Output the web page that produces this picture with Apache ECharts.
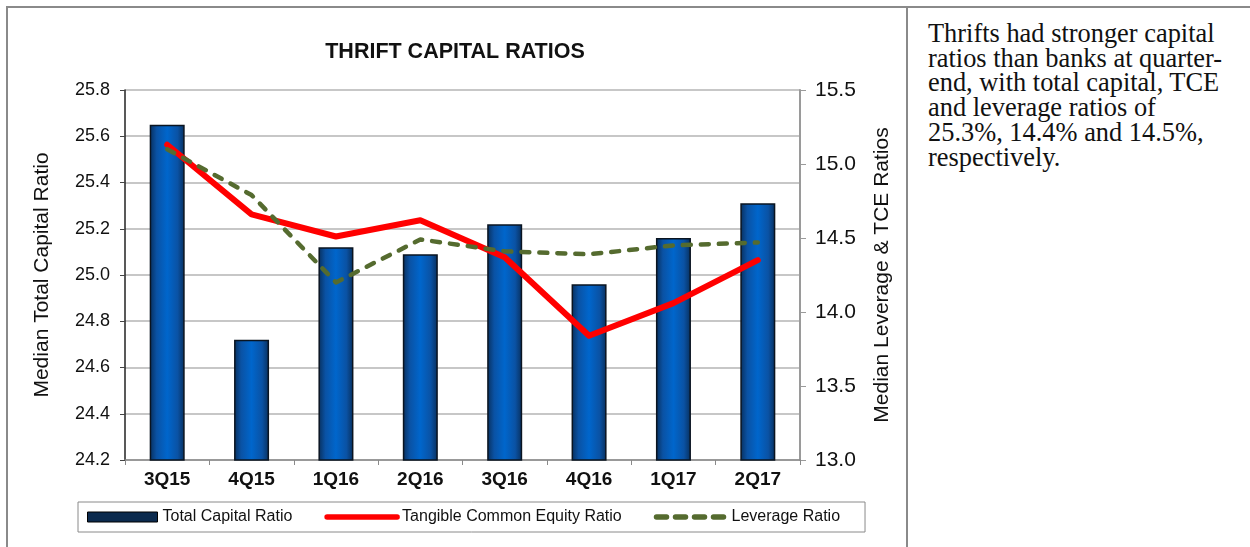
<!DOCTYPE html>
<html>
<head>
<meta charset="utf-8">
<script src="https://cdn.jsdelivr.net/npm/echarts@6/dist/echarts.min.js"></script>
<style>
  html, body { margin: 0; padding: 0; background: #fff; }
  #wrap { position: relative; width: 1250px; height: 547px; overflow: hidden; }
  #frameTop { position: absolute; left: 7px; top: 6px; width: 1243px; height: 0; border-top: 2px solid #8a8a8a; }
  #frameLeft { position: absolute; left: 6px; top: 6px; width: 0; height: 541px; border-left: 2px solid #8a8a8a; }
  #frameMid { position: absolute; left: 906px; top: 6px; width: 0; height: 541px; border-left: 2px solid #8a8a8a; }
  #chart { position: absolute; left: 0; top: 0; width: 906px; height: 547px; }
  #note { position: absolute; left: 928px; top: 21px; width: 320px; font-family: "Liberation Serif", "Times New Roman", serif; font-size: 26.4px; line-height: 24.7px; color: #111; white-space: nowrap; }
</style>
</head>
<body>
<div id="wrap">
  <div id="chart"></div>
  <div id="frameTop"></div>
  <div id="frameLeft"></div>
  <div id="frameMid"></div>
  <div id="note">Thrifts had stronger capital<br>ratios than banks at quarter-<br>end, with total capital, TCE<br>and leverage ratios of<br>25.3%, 14.4% and 14.5%,<br>respectively.</div>
</div>
<script>
const categories = ['3Q15', '4Q15', '1Q16', '2Q16', '3Q16', '4Q16', '1Q17', '2Q17'];
const totalCapitalRatio = [25.65, 24.72, 25.12, 25.09, 25.22, 24.96, 25.16, 25.31];
const tceRatio = [15.13, 14.66, 14.51, 14.62, 14.37, 13.84, 14.06, 14.35];
const leverageRatio = [15.10, 14.79, 14.20, 14.49, 14.41, 14.39, 14.45, 14.47];
const leftAxisTicks = { min: 24.2, max: 25.8, step: 0.2 };
const rightAxisTicks = { min: 13.0, max: 15.5, step: 0.5 };

const chart = echarts.init(document.getElementById('chart'), null, { renderer: 'canvas' });
const font = '"Liberation Sans", Arial, sans-serif';
const hidden = 'rgba(0,0,0,0)';
chart.setOption({
  animation: false,
  textStyle: { fontFamily: font },
  title: {
    text: 'THRIFT CAPITAL RATIOS',
    left: 450, top: 36, textAlign: 'center',
    textStyle: { fontFamily: font, fontSize: 21.5, fontWeight: 'bold', color: '#111' }
  },
  grid: { left: 125, right: 106, top: 90, bottom: 87 },
  legend: {
    left: 78, top: 502,
    padding: [7, 25, 7, 9],
    itemGap: 32,
    itemWidth: 70, itemHeight: 10,
    borderColor: '#8a8a8a', borderWidth: 1,
    textStyle: { fontFamily: font, fontSize: 16, color: '#111' },
    data: [
      { name: 'Total Capital Ratio', icon: 'rect', itemStyle: { color: '#0b2a4e', borderColor: '#000', borderWidth: 1 } },
      { name: 'Tangible Common Equity Ratio', itemStyle: { color: hidden, borderColor: hidden, borderWidth: 0 },
        lineStyle: { width: 5.5, cap: 'round' } },
      { name: 'Leverage Ratio', itemStyle: { color: hidden, borderColor: hidden, borderWidth: 0 },
        lineStyle: { width: 5.5, type: [10, 9], cap: 'round' } }
    ]
  },
  xAxis: {
    type: 'category',
    data: categories,
    axisLine: { lineStyle: { color: '#8a8a8a', width: 1.5 } },
    axisTick: { show: true, length: 5, lineStyle: { color: '#8a8a8a' } },
    axisLabel: { fontFamily: font, fontSize: 19, fontWeight: 'bold', color: '#111', margin: 10 }
  },
  yAxis: [
    {
      type: 'value',
      min: leftAxisTicks.min, max: leftAxisTicks.max, interval: leftAxisTicks.step,
      name: 'Median Total Capital Ratio',
      nameLocation: 'middle', nameGap: 72, nameRotate: 90,
      nameTextStyle: { fontFamily: font, fontSize: 21, color: '#111' },
      axisLine: { show: true, lineStyle: { color: '#222', width: 1.5 } },
      axisTick: { show: true, length: 5, lineStyle: { color: '#444' } },
      axisLabel: { fontFamily: font, fontSize: 18, color: '#111', margin: 15, formatter: v => v.toFixed(1) },
      splitLine: { show: true, lineStyle: { color: '#b4b4b4', width: 1.5 } }
    },
    {
      type: 'value',
      min: rightAxisTicks.min, max: rightAxisTicks.max, interval: rightAxisTicks.step,
      name: 'Median Leverage & TCE Ratios',
      nameLocation: 'middle', nameGap: 72, nameRotate: 90,
      nameTextStyle: { fontFamily: font, fontSize: 21, color: '#111' },
      axisLine: { show: true, lineStyle: { color: '#9a9a9a', width: 2 } },
      axisTick: { show: true, length: 6, lineStyle: { color: '#9a9a9a' } },
      axisLabel: { fontFamily: font, fontSize: 21, color: '#111', margin: 15, formatter: v => v.toFixed(1) },
      splitLine: { show: false }
    }
  ],
  series: [
    {
      name: 'Total Capital Ratio',
      type: 'bar',
      yAxisIndex: 0,
      barWidth: 35,
      data: totalCapitalRatio,
      itemStyle: {
        color: new echarts.graphic.LinearGradient(0, 0, 1, 0, [
          { offset: 0, color: '#082f5c' },
          { offset: 0.2, color: '#0a52a4' },
          { offset: 0.5, color: '#0066cc' },
          { offset: 0.8, color: '#0a52a4' },
          { offset: 1, color: '#082f5c' }
        ]),
        borderColor: '#0a1420', borderWidth: 1.5
      }
    },
    {
      name: 'Tangible Common Equity Ratio',
      type: 'line',
      yAxisIndex: 1,
      data: tceRatio,
      symbol: 'none',
      lineStyle: { color: '#ff0000', width: 6, cap: 'round', join: 'round' },
      itemStyle: { color: '#ff0000' },
      z: 3
    },
    {
      name: 'Leverage Ratio',
      type: 'line',
      yAxisIndex: 1,
      data: leverageRatio,
      symbol: 'none',
      lineStyle: { color: '#556b2f', width: 4.5, type: [8, 10], cap: 'round', join: 'round' },
      itemStyle: { color: '#556b2f' },
      z: 4
    }
  ]
});
</script>
</body>
</html>
